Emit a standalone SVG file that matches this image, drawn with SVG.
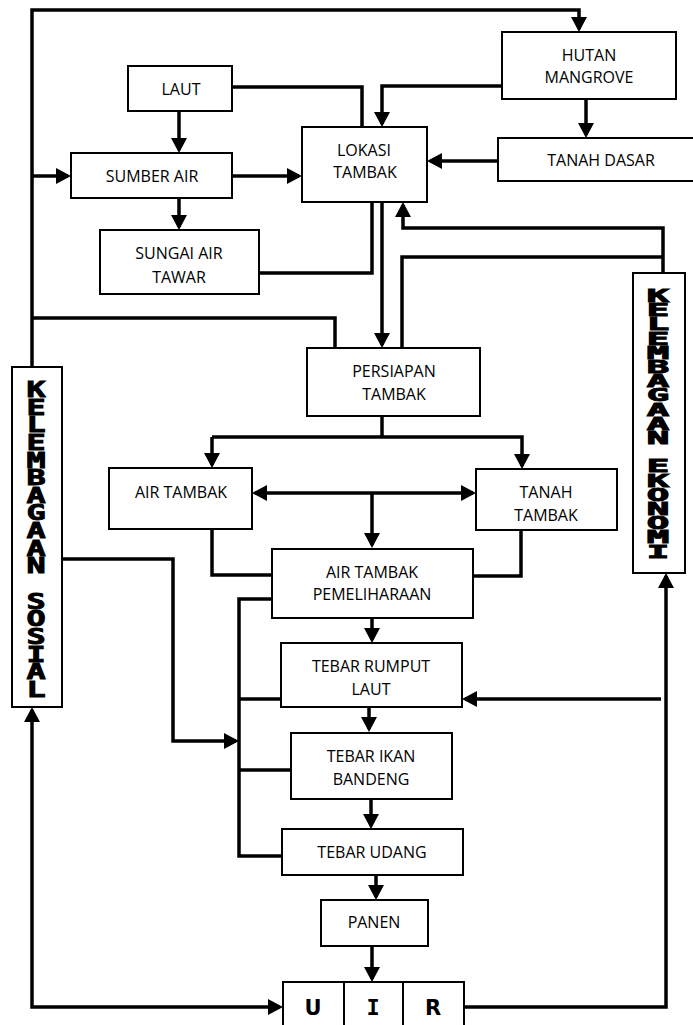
<svg xmlns="http://www.w3.org/2000/svg" width="693" height="1025" viewBox="0 0 693 1025">
<defs>
<marker id="ah" viewBox="0 0 15 16" markerUnits="userSpaceOnUse" markerWidth="15" markerHeight="16" refX="12" refY="8" orient="auto-start-reverse">
<path d="M0,0 L15,8 L0,16 z" fill="#000"/>
</marker>
<style>
.box{fill:#fff;stroke:#000;stroke-width:2}
.t{font-family:"Open Sans","Liberation Sans",sans-serif;font-size:16px;text-anchor:middle;fill:#000}
.c{fill:none;stroke:#000;stroke-width:3.5;stroke-linejoin:miter}
.a{marker-end:url(#ah)}
.v{font-family:"DejaVu Sans Mono",monospace;font-weight:bold;text-anchor:middle;fill:#000;stroke:#000;stroke-width:0.9}
.u{font-family:"DejaVu Sans",sans-serif;font-weight:bold;font-size:21px;text-anchor:middle;fill:#000}
.um{font-family:"DejaVu Sans Mono",monospace;font-weight:bold;font-size:22px;text-anchor:middle;fill:#000}
</style>
</defs>
<rect width="693" height="1025" fill="#fff"/>

<g id="connectors">
<path class="c a" d="M32,367 V10 H579 V29"/>
<path class="c a" d="M32,176 H68"/>
<path class="c" d="M32,318 H335 V348"/>
<path class="c a" d="M179,111 V150"/>
<path class="c" d="M232,87 H362 V127"/>
<path class="c a" d="M232,176 H299"/>
<path class="c a" d="M179,198 V227"/>
<path class="c" d="M259,273 H372 V202"/>
<path class="c a" d="M502,86 H382 V124"/>
<path class="c a" d="M586,99 V135"/>
<path class="c a" d="M498,161 H430"/>
<path class="c a" d="M663,273 V228 H403 V205"/>
<path class="c" d="M402,348 V257 H663"/>
<path class="c a" d="M382,202 V345"/>
<path class="c" d="M382,416 V437"/>
<path class="c a" d="M212,437 H522 V466"/>
<path class="c a" d="M212,437 V465"/>
<path class="c a" d="M255,493 H473" marker-start="url(#ah)"/>
<path class="c a" d="M372,493 V545"/>
<path class="c" d="M212,529 V575 H272"/>
<path class="c" d="M521,530 V576 H473"/>
<path class="c a" d="M62,559 H173 V741 H236"/>
<path class="c" d="M272,599 H239 V856 H282"/>
<path class="c" d="M239,699 H281"/>
<path class="c" d="M239,770 H291"/>
<path class="c a" d="M372,618 V640"/>
<path class="c a" d="M369,707 V729"/>
<path class="c a" d="M371,799 V826"/>
<path class="c a" d="M376,875 V897"/>
<path class="c a" d="M372,946 V979"/>
<path class="c a" d="M464,1007 H666 V576"/>
<path class="c a" d="M661,699 H465"/>
<path class="c a" d="M280,1007 H32 V710" marker-start="url(#ah)"/>
</g>

<g id="laut"><rect class="box" x="128" y="66" width="104" height="45"/><text class="t" x="181" y="95">LAUT</text></g>
<g id="sumber-air"><rect class="box" x="71" y="153" width="161" height="45"/><text class="t" x="152" y="182">SUMBER AIR</text></g>
<g id="sungai-air-tawar"><rect class="box" x="100" y="230" width="159" height="64"/><text class="t" x="179" y="259">SUNGAI AIR</text><text class="t" x="179" y="283">TAWAR</text></g>
<g id="lokasi-tambak"><rect class="box" x="302" y="127" width="125" height="75"/><text class="t" x="364" y="156">LOKASI</text><text class="t" x="365" y="178">TAMBAK</text></g>
<g id="hutan-mangrove"><rect class="box" x="502" y="32" width="174" height="67"/><text class="t" x="589" y="61">HUTAN</text><text class="t" x="589" y="83">MANGROVE</text></g>
<g id="tanah-dasar"><rect class="box" x="498" y="138" width="200" height="43"/><text class="t" x="601" y="166">TANAH DASAR</text></g>
<g id="persiapan-tambak"><rect class="box" x="307" y="348" width="173" height="68"/><text class="t" x="394" y="377">PERSIAPAN</text><text class="t" x="394" y="400">TAMBAK</text></g>
<g id="air-tambak"><rect class="box" x="109" y="468" width="143" height="61"/><text class="t" x="181" y="498">AIR TAMBAK</text></g>
<g id="tanah-tambak"><rect class="box" x="476" y="469" width="141" height="61"/><text class="t" x="546" y="498">TANAH</text><text class="t" x="546" y="521">TAMBAK</text></g>
<g id="air-tambak-pemeliharaan"><rect class="box" x="272" y="549" width="201" height="69"/><text class="t" x="372" y="578">AIR TAMBAK</text><text class="t" x="372" y="600">PEMELIHARAAN</text></g>
<g id="tebar-rumput-laut"><rect class="box" x="281" y="643" width="181" height="64"/><text class="t" x="371" y="672">TEBAR RUMPUT</text><text class="t" x="371" y="695">LAUT</text></g>
<g id="tebar-ikan-bandeng"><rect class="box" x="291" y="733" width="161" height="66"/><text class="t" x="371" y="762">TEBAR IKAN</text><text class="t" x="371" y="785">BANDENG</text></g>
<g id="tebar-udang"><rect class="box" x="282" y="829" width="181" height="46"/><text class="t" x="372" y="858">TEBAR UDANG</text></g>
<g id="panen"><rect class="box" x="321" y="900" width="107" height="46"/><text class="t" x="374" y="928">PANEN</text></g>
<g id="uir"><rect class="box" x="283" y="982" width="181" height="60"/><line x1="344" y1="982" x2="344" y2="1030" stroke="#000" stroke-width="2"/><line x1="403" y1="982" x2="403" y2="1030" stroke="#000" stroke-width="2"/><text class="u" x="313" y="1015">U</text><text class="um" x="373" y="1015">I</text><text class="u" x="433" y="1015">R</text></g>

<g id="kelembagaan-sosial"><rect class="box" x="12" y="367" width="50" height="340"/>
<text transform="translate(36,0) scale(1.45,1)" class="v" font-size="22"><tspan x="0" y="397">K</tspan><tspan x="0" y="414.6">E</tspan><tspan x="0" y="432.3">L</tspan><tspan x="0" y="450">E</tspan><tspan x="0" y="467.6">M</tspan><tspan x="0" y="485.2">B</tspan><tspan x="0" y="502.9">A</tspan><tspan x="0" y="520.5">G</tspan><tspan x="0" y="538.2">A</tspan><tspan x="0" y="555.8">A</tspan><tspan x="0" y="573.5">N</tspan><tspan x="0" y="608.8">S</tspan><tspan x="0" y="626.4">O</tspan><tspan x="0" y="644">S</tspan><tspan x="0" y="661.7">I</tspan><tspan x="0" y="679.3">A</tspan><tspan x="0" y="697">L</tspan></text>
</g>

<g id="kelembagaan-ekonomi"><rect class="box" x="633" y="273" width="52" height="300"/>
<text transform="translate(658,0) scale(2.2,1)" class="v" font-size="17"><tspan x="0" y="302">K</tspan><tspan x="0" y="316.2">E</tspan><tspan x="0" y="330.4">L</tspan><tspan x="0" y="344.6">E</tspan><tspan x="0" y="358.8">M</tspan><tspan x="0" y="373">B</tspan><tspan x="0" y="387.2">A</tspan><tspan x="0" y="401.4">G</tspan><tspan x="0" y="415.6">A</tspan><tspan x="0" y="429.8">A</tspan><tspan x="0" y="444">N</tspan><tspan x="0" y="472.4">E</tspan><tspan x="0" y="486.6">K</tspan><tspan x="0" y="500.8">O</tspan><tspan x="0" y="515">N</tspan><tspan x="0" y="529.2">O</tspan><tspan x="0" y="543.4">M</tspan><tspan x="0" y="557.6">I</tspan></text>
</g>
</svg>
